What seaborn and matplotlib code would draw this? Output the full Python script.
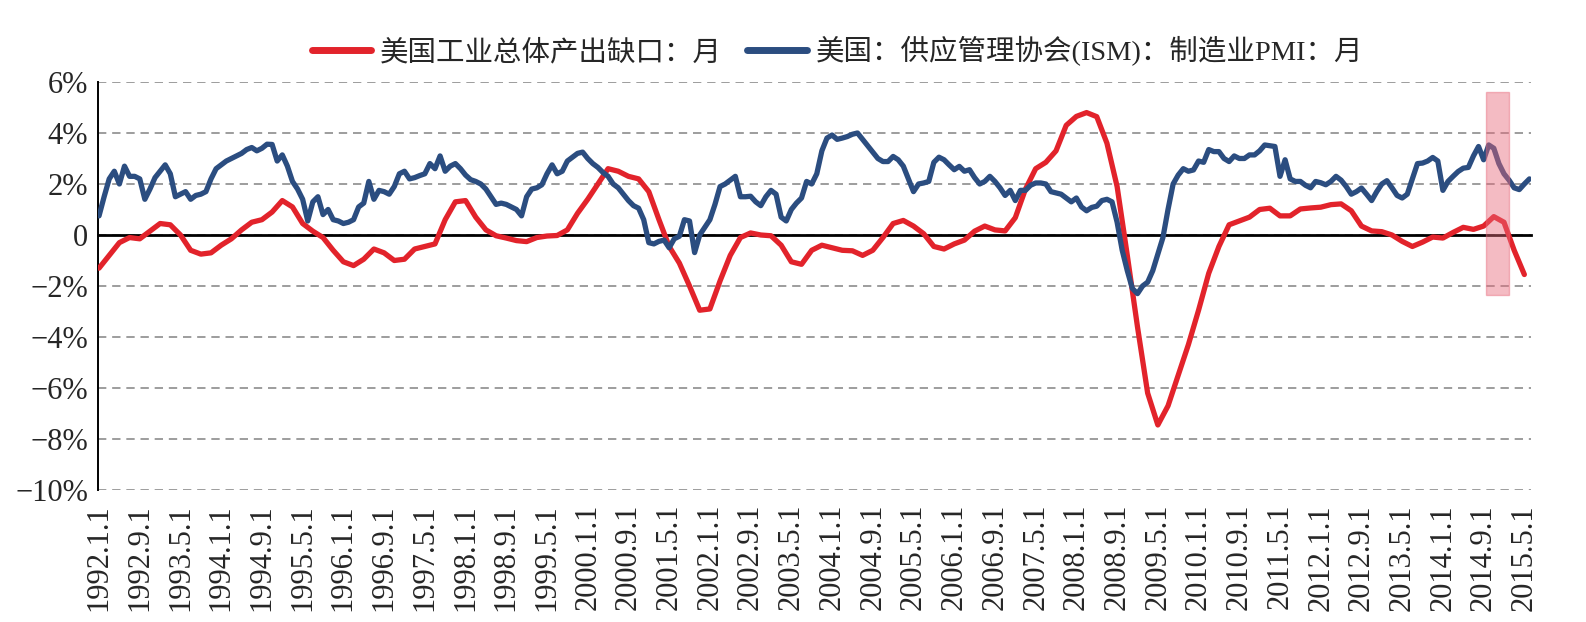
import numpy as np
import pandas as pd
import matplotlib
matplotlib.use('Agg')
import matplotlib.pyplot as plt
import seaborn as sns
from matplotlib.patches import Rectangle

# output gap (%), read every 2 months from 1992.1
gap = [-1.3, -0.8, -0.3, -0.1, -0.15, 0.15, 0.45, 0.4, 0.0, -0.6,
       -0.75, -0.7, -0.4, -0.15, 0.2, 0.5, 0.6, 0.9, 1.35, 1.1,
       0.45, 0.15, -0.1, -0.6, -1.05, -1.2, -0.95, -0.55, -0.7, -1.0,
       -0.95, -0.55, -0.45, -0.35, 0.6, 1.3, 1.35, 0.7, 0.2, -0.03,
       -0.12, -0.22, -0.26, -0.1, -0.04, -0.02, 0.2, 0.85, 1.4, 2.0,
       2.6, 2.5, 2.3, 2.2, 1.7, 0.6, -0.45, -1.1, -2.0, -2.95,
       -2.9, -1.8, -0.8, -0.1, 0.08, 0.0, -0.03, -0.4, -1.05, -1.15,
       -0.6, -0.4, -0.5, -0.6, -0.62, -0.8, -0.6, -0.1, 0.45, 0.57,
       0.35, 0.05, -0.45, -0.55, -0.35, -0.2, 0.15, 0.35, 0.2, 0.16,
       0.68, 1.8, 2.6, 2.85, 3.3, 4.3, 4.65, 4.8, 4.64, 3.6,
       1.9, -0.8, -3.6, -6.2, -7.45, -6.7, -5.5, -4.3, -2.95, -1.5,
       -0.45, 0.4, 0.55, 0.7, 1.0, 1.05, 0.75, 0.75, 1.02, 1.06,
       1.09, 1.19, 1.22, 0.95, 0.35, 0.16, 0.13, 0.0, -0.25, -0.45,
       -0.28, -0.08, -0.12, 0.1, 0.3, 0.22, 0.35, 0.72, 0.5, -0.6,
       -1.55]

# ISM manufacturing PMI (chart scale), monthly from 1992.1
pmi = [0.75, 1.5, 2.2, 2.5, 2.0, 2.7, 2.3, 2.3, 2.2, 1.4,
       1.8, 2.25, 2.5, 2.75, 2.4, 1.5, 1.6, 1.7, 1.4, 1.55,
       1.6, 1.7, 2.2, 2.6, 2.75, 2.9, 3.0, 3.1, 3.2, 3.35,
       3.43, 3.3, 3.4, 3.56, 3.55, 2.9, 3.14, 2.7, 2.1, 1.8,
       1.4, 0.55, 1.3, 1.5, 0.8, 1.0, 0.6, 0.55, 0.45, 0.5,
       0.6, 1.1, 1.25, 2.1, 1.4, 1.75, 1.7, 1.6, 1.9, 2.4,
       2.5, 2.2, 2.25, 2.33, 2.4, 2.8, 2.6, 3.1, 2.5, 2.7,
       2.8, 2.6, 2.35, 2.17, 2.1, 2.0, 1.8, 1.5, 1.2, 1.25,
       1.2, 1.1, 1.0, 0.75, 1.5, 1.8, 1.85, 1.97, 2.4, 2.75,
       2.4, 2.5, 2.9, 3.05, 3.2, 3.25, 3.0, 2.8, 2.65, 2.45,
       2.3, 2.0, 1.85, 1.6, 1.35, 1.15, 1.05, 0.6, -0.3, -0.35,
       -0.25, -0.2, -0.5, -0.15, -0.05, 0.6, 0.55, -0.69, 0.0, 0.3,
       0.6, 1.2, 1.9, 2.0, 2.15, 2.3, 1.5, 1.5, 1.52, 1.3,
       1.15, 1.5, 1.75, 1.6, 0.7, 0.55, 1.0, 1.25, 1.45, 2.1,
       2.0, 2.4, 3.3, 3.8, 3.92, 3.75, 3.8, 3.86, 3.95, 4.0,
       3.75, 3.5, 3.25, 3.0, 2.88, 2.88, 3.08, 2.95, 2.7, 2.2,
       1.7, 2.0, 2.04, 2.1, 2.85, 3.05, 2.95, 2.75, 2.56, 2.69,
       2.5, 2.56, 2.25, 2.0, 2.1, 2.3, 2.1, 1.85, 1.55, 1.75,
       1.35, 1.75, 1.75, 1.95, 2.04, 2.04, 2.0, 1.7, 1.65, 1.6,
       1.45, 1.3, 1.45, 1.1, 0.95, 1.08, 1.13, 1.35, 1.4, 1.3,
       0.5, -0.6, -1.4, -2.1, -2.3, -2.0, -1.85, -1.4, -0.75, -0.1,
       1.0, 2.0, 2.35, 2.6, 2.5, 2.55, 2.9, 2.85, 3.35, 3.27,
       3.27, 3.0, 2.88, 3.1, 3.0, 3.0, 3.14, 3.14, 3.3, 3.53,
       3.5, 3.47, 2.3, 2.95, 2.2, 2.1, 2.1, 1.95, 1.85, 2.1,
       2.05, 1.97, 2.1, 2.3, 2.15, 1.9, 1.6, 1.7, 1.84, 1.6,
       1.35, 1.7, 2.0, 2.13, 1.85, 1.55, 1.45, 1.6, 2.2, 2.8,
       2.82, 2.9, 3.04, 2.9, 1.75, 2.1, 2.3, 2.49, 2.62, 2.65,
       3.1, 3.47, 2.95, 3.53, 3.4, 2.8, 2.4, 2.15, 1.85, 1.78,
       2.0, 2.2]

gap_label = '美国工业总体产出缺口：月'
pmi_label = '美国：供应管理协会(ISM)：制造业PMI：月'
yticks = [6, 4, 2, 0, -2, -4, -6, -8, -10]
ytick_labels = ['6%', '4%', '2%', '0', '−2%', '−4%', '−6%', '−8%', '−10%']
tick_dates = pd.date_range('1992-01-01', '2015-05-01', freq='8MS')
highlight = ('2014-09-15', '2015-02-01', -2.35, 5.6)


def month_index(d):
    d = pd.DatetimeIndex(d)
    return np.asarray((d.year - 1992) * 12 + (d.month - 1) + (d.day - 1) / 30.0)


gap_x = month_index(pd.date_range('1992-01-01', periods=len(gap), freq='2MS'))
pmi_x = month_index(pd.date_range('1992-01-01', periods=len(pmi), freq='MS'))

sns.set_style('white')
plt.rcParams['font.family'] = ['Liberation Serif', 'Noto Sans CJK SC']
plt.rcParams['axes.unicode_minus'] = True

red = '#E2232B'
blue = '#2B4D80'

fig = plt.figure(figsize=(15.86, 6.22), dpi=100)
ax = fig.add_axes([0.0618, 0.2122, 0.9035, 0.656])

sns.lineplot(x=gap_x, y=gap, ax=ax, color=red, lw=3.8, label=gap_label,
             solid_capstyle='round', zorder=3)
sns.lineplot(x=pmi_x, y=pmi, ax=ax, color=blue, lw=3.8, label=pmi_label,
             solid_capstyle='round', zorder=4)
ax.set_xlabel('')
ax.set_ylabel('')

# highlight box
x0 = month_index([highlight[0]])[0]
x1 = month_index([highlight[1]])[0]
ax.add_patch(Rectangle((x0, highlight[2]), x1 - x0, highlight[3] - highlight[2],
                       facecolor='#E8697A', alpha=0.45, edgecolor='#E8697A',
                       lw=1, zorder=5))

ax.set_ylim(-10, 6)
ax.set_xlim(-0.2, 281.3)
ax.set_yticks(yticks)
ax.set_yticklabels(ytick_labels)
ax.yaxis.grid(True, ls=(0, (5, 3.5)), color='#8c8c8c', lw=1.2)
ax.xaxis.grid(False)
ax.set_axisbelow(True)
ax.tick_params(axis='y', length=0, pad=7, labelsize=22)

for s in ['top', 'right']:
    ax.spines[s].set_visible(False)
ax.spines['left'].set_color('black')
ax.spines['left'].set_linewidth(1.4)
ax.spines['bottom'].set_position(('data', 0))
ax.spines['bottom'].set_color('black')
ax.spines['bottom'].set_linewidth(2)
ax.spines['bottom'].set_zorder(2.5)

xt = month_index(tick_dates)
xl = [f'{d.year}.{d.month}.1' for d in tick_dates]
ax.set_xticks(xt)
ax.tick_params(axis='x', direction='out', length=6, width=1.5,
               labelbottom=False, color='black')

sec = ax.secondary_xaxis('bottom')
sec.set_xticks(xt)
sec.set_xticklabels(xl, rotation=90, fontsize=22)
sec.tick_params(length=0, pad=10)
sec.spines['bottom'].set_visible(False)

handles, labels = ax.get_legend_handles_labels()
ax.get_legend().remove()
leg = fig.legend(handles, labels, loc='center', bbox_to_anchor=(0.528, 0.918),
                 ncol=2, frameon=False, fontsize=20.5, handlelength=2.1,
                 handletextpad=0.3, columnspacing=0.9)
for h in leg.legend_handles:
    h.set_linewidth(5)

fig.savefig('out.png', dpi=100)
